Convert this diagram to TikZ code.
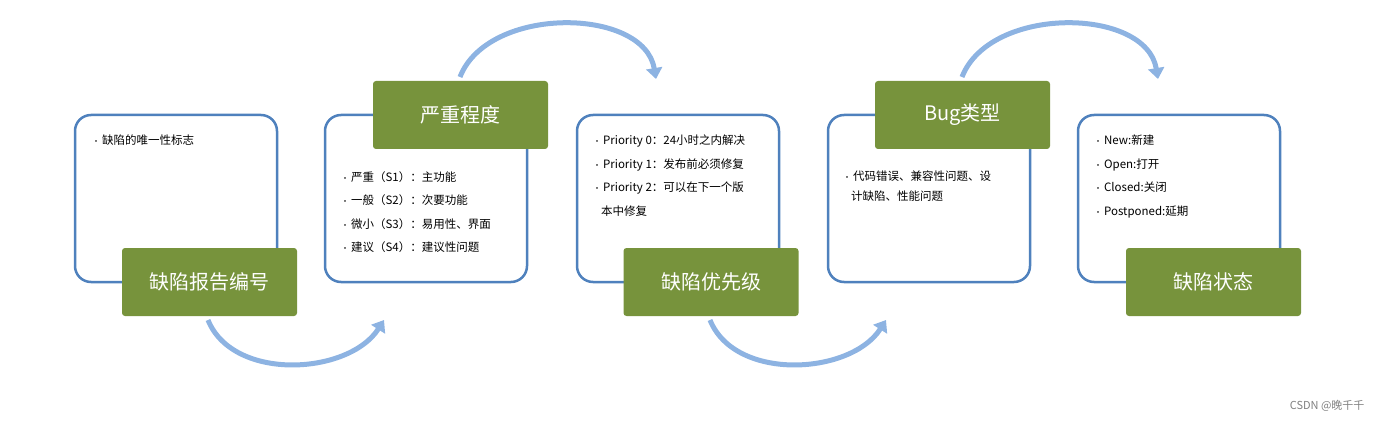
\documentclass[tikz,border=0pt]{standalone}
\usepackage{fontspec}
\setmainfont{Noto Sans CJK SC}
\usetikzlibrary{arrows.meta}
\definecolor{grn}{HTML}{77933C}
\definecolor{bdr}{HTML}{4F81BD}
\definecolor{arc}{HTML}{8DB3E2}
\tikzset{
 card/.style={draw=bdr,line width=2.5pt,rounded corners=16pt,fill=white},
 tag/.style={fill=grn,rounded corners=3pt,minimum width=175pt,minimum height=68pt,text=white,font=\fontsize{20}{24}\selectfont},
 txt/.style={anchor=north west,align=left,font=\fontsize{11.5}{23.5}\selectfont,inner sep=0pt},
 flow/.style={draw=arc,line width=5pt,-{Triangle[length=11pt,width=16pt]}}
}
\newcommand{\bl}{{\fontsize{8}{8}\selectfont•}\,}
\begin{document}
\begin{tikzpicture}[x=1pt,y=-1pt]
\useasboundingbox (0,0) rectangle (1384,422);
\foreach \x/\n in {75/b1,325/b2,577/b3,828/b4,1078/b5}
  \draw[card] (\x,115) rectangle ++(202,167) coordinate (\n);
\node[tag] (t1) at (209.5,282) {缺陷报告编号};
\node[tag] (t2) at (460.5,115) {严重程度};
\node[tag] (t3) at (711,282) {缺陷优先级};
\node[tag] (t4) at (962.5,115) {Bug类型};
\node[tag] (t5) at (1213.5,282) {缺陷状态};
\node[txt] (x1) at (92,135) {\bl 缺陷的唯一性标志};
\node[txt] (x2) at (341,171) {\bl 严重（S1）：主功能\\ \bl 一般（S2）：次要功能\\ \bl 微小（S3）：易用性、界面\\ \bl 建议（S4）：建议性问题};
\node[txt] (x3) at (593,135) {\bl Priority 0：24小时之内解决\\ \bl Priority 1：发布前必须修复\\ \bl Priority 2：可以在下一个版\\ \hspace{8pt}本中修复};
\node[txt,font=\fontsize{11.5}{20}\selectfont] (x4) at (843,171) {\bl 代码错误、兼容性问题、设\\ \hspace{8pt}计缺陷、性能问题};
\node[txt] (x5) at (1094,135) {\bl New:新建\\ \bl Open:打开\\ \bl Closed:关闭\\ \bl Postponed:延期};
\coordinate (a1s) at (208,320); \coordinate (a1e) at (384,320);
\coordinate (a2s) at (460,77);  \coordinate (a2e) at (656,79);
\coordinate (a3s) at (710,320); \coordinate (a3e) at (886,320);
\coordinate (a4s) at (962,77);  \coordinate (a4e) at (1158,79);
\draw[flow] (a1s) .. controls +(25,62) and +(-35,55) .. (a1e);
\draw[flow] (a2s) .. controls +(28,-72) and +(-12,-72) .. (a2e);
\draw[flow] (a3s) .. controls +(25,62) and +(-35,55) .. (a3e);
\draw[flow] (a4s) .. controls +(28,-72) and +(-12,-72) .. (a4e);
\node[anchor=east,text=gray,font=\fontsize{11}{13}\selectfont] (wm) at (1368,406) {CSDN @晚千千};
\end{tikzpicture}
\end{document}
